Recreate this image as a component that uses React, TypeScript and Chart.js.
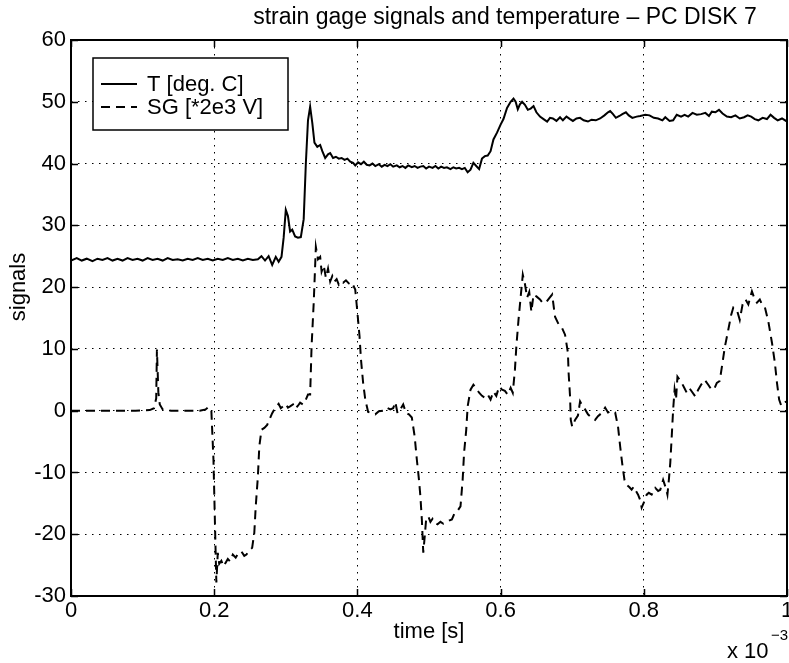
import React, { useEffect, useRef } from "react";
import { Chart, registerables } from "chart.js";

Chart.register(...registerables);

// ---- data (time in units of 1e-3 s) ----
const tTime = [
  0.000, 0.008, 0.015, 0.022, 0.030, 0.037, 0.044, 0.051, 0.058, 0.065, 0.072, 0.079, 0.086, 0.093, 0.100,
  0.107, 0.114, 0.121, 0.128, 0.135, 0.142, 0.149, 0.156, 0.163, 0.170, 0.177, 0.184, 0.191, 0.198, 0.205,
  0.212, 0.219, 0.226, 0.233, 0.240, 0.247, 0.254, 0.261, 0.266, 0.271, 0.276, 0.281, 0.286, 0.290, 0.294,
  0.297, 0.300, 0.303, 0.306, 0.309, 0.313, 0.317, 0.321, 0.325, 0.328, 0.331, 0.334, 0.337, 0.340, 0.344,
  0.348, 0.351, 0.355, 0.359, 0.362, 0.366, 0.370, 0.374, 0.378, 0.382, 0.386, 0.390, 0.394, 0.397, 0.401,
  0.405, 0.409, 0.413, 0.417, 0.421, 0.425, 0.430, 0.434, 0.438, 0.442, 0.446, 0.450, 0.455, 0.459, 0.463,
  0.467, 0.471, 0.476, 0.480, 0.484, 0.488, 0.492, 0.496, 0.500, 0.505, 0.509, 0.513, 0.517, 0.521, 0.525,
  0.530, 0.534, 0.538, 0.542, 0.546, 0.550, 0.554, 0.558, 0.562, 0.566, 0.570, 0.574, 0.578, 0.582, 0.586,
  0.590, 0.595, 0.600, 0.604, 0.609, 0.614, 0.618, 0.621, 0.624, 0.627, 0.630, 0.634, 0.638, 0.642, 0.646,
  0.650, 0.655, 0.660, 0.665, 0.669, 0.673, 0.678, 0.683, 0.687, 0.692, 0.697, 0.701, 0.706, 0.711, 0.716,
  0.722, 0.727, 0.733, 0.739, 0.745, 0.750, 0.753, 0.757, 0.761, 0.766, 0.770, 0.775, 0.779, 0.784, 0.790,
  0.795, 0.802, 0.808, 0.814, 0.820, 0.826, 0.830, 0.836, 0.841, 0.846, 0.852, 0.857, 0.862, 0.868, 0.874,
  0.880, 0.886, 0.891, 0.895, 0.900, 0.905, 0.910, 0.916, 0.922, 0.928, 0.934, 0.940, 0.945, 0.950, 0.955,
  0.960, 0.966, 0.972, 0.977, 0.982, 0.987, 0.993, 1.000,
];
const tValues = [
  24.3, 24.7, 24.3, 24.6, 24.2, 24.6, 24.4, 24.7, 24.3, 24.6, 24.3, 24.7, 24.4, 24.6, 24.3,
  24.7, 24.4, 24.6, 24.3, 24.7, 24.4, 24.5, 24.3, 24.6, 24.4, 24.7, 24.4, 24.6, 24.3, 24.6,
  24.4, 24.7, 24.4, 24.6, 24.3, 24.6, 24.4, 24.5, 25.0, 24.3, 25.0, 23.6, 24.9, 24.1, 24.9,
  28.0, 32.5, 31.5, 29.0, 29.3, 28.2, 28.0, 28.1, 31.0, 40.0, 47.0, 49.2, 46.6, 43.4, 42.7,
  43.0, 42.0, 40.9, 41.5, 41.7, 40.9, 41.1, 40.8, 40.9, 40.6, 40.8, 40.3, 40.1, 39.7, 40.2,
  39.9, 40.3, 39.8, 39.7, 40.0, 39.6, 39.9, 39.5, 39.8, 39.6, 39.9, 39.5, 39.7, 39.4, 39.6,
  39.3, 39.7, 39.4, 39.6, 39.3, 39.5, 39.6, 39.2, 39.5, 39.3, 39.6, 39.2, 39.5, 39.3, 39.4,
  39.1, 39.4, 39.2, 39.3, 39.1, 39.3, 38.6, 39.0, 40.1, 39.6, 39.1, 40.8, 41.2, 41.3, 42.0,
  43.9, 45.0, 46.3, 47.2, 49.0, 50.0, 50.5, 50.0, 48.8, 49.6, 50.0, 49.5, 48.7, 48.9, 49.3,
  48.3, 47.6, 47.2, 46.8, 47.4, 47.3, 46.9, 47.5, 47.0, 47.6, 47.2, 46.9, 47.3, 47.4, 47.0,
  46.8, 47.1, 47.0, 47.3, 47.8, 48.3, 48.5, 48.0, 47.4, 47.7, 48.0, 48.3, 47.8, 47.4, 47.6,
  47.7, 47.9, 47.8, 47.4, 47.3, 47.0, 47.5, 46.9, 47.0, 47.9, 47.6, 47.9, 47.6, 48.2, 47.9,
  48.0, 48.2, 47.7, 48.4, 48.3, 48.7, 48.1, 47.6, 47.5, 47.8, 47.3, 47.5, 47.8, 47.6, 47.2,
  47.0, 47.4, 47.2, 47.9, 47.4, 47.0, 47.3, 46.8,
];

const sgTime = [
  0.000, 0.030, 0.060, 0.090, 0.110, 0.116, 0.119, 0.120, 0.122, 0.124, 0.128, 0.140, 0.160, 0.180, 0.188,
  0.192, 0.196, 0.199, 0.201, 0.203, 0.205, 0.207, 0.210, 0.213, 0.216, 0.219, 0.222, 0.226, 0.230, 0.234,
  0.238, 0.242, 0.245, 0.249, 0.253, 0.256, 0.258, 0.261, 0.263, 0.266, 0.270, 0.274, 0.278, 0.281, 0.285,
  0.290, 0.293, 0.296, 0.300, 0.303, 0.306, 0.310, 0.313, 0.317, 0.320, 0.324, 0.328, 0.331, 0.334, 0.336,
  0.339, 0.342, 0.345, 0.348, 0.350, 0.353, 0.356, 0.359, 0.362, 0.365, 0.368, 0.371, 0.374, 0.377, 0.380,
  0.384, 0.388, 0.392, 0.397, 0.400, 0.403, 0.405, 0.408, 0.411, 0.415, 0.420, 0.425, 0.430, 0.436, 0.441,
  0.446, 0.450, 0.453, 0.456, 0.460, 0.464, 0.468, 0.472, 0.476, 0.480, 0.483, 0.486, 0.488, 0.490, 0.492,
  0.494, 0.496, 0.499, 0.502, 0.505, 0.508, 0.512, 0.516, 0.520, 0.524, 0.528, 0.532, 0.536, 0.540, 0.544,
  0.547, 0.549, 0.552, 0.554, 0.558, 0.562, 0.566, 0.570, 0.574, 0.578, 0.582, 0.586, 0.590, 0.594, 0.598,
  0.602, 0.606, 0.610, 0.614, 0.617, 0.620, 0.622, 0.625, 0.628, 0.631, 0.634, 0.637, 0.640, 0.643, 0.646,
  0.650, 0.655, 0.659, 0.664, 0.668, 0.672, 0.676, 0.681, 0.685, 0.690, 0.694, 0.695, 0.697, 0.698, 0.700,
  0.704, 0.708, 0.711, 0.715, 0.718, 0.722, 0.727, 0.732, 0.736, 0.741, 0.746, 0.750, 0.755, 0.760, 0.764,
  0.767, 0.770, 0.773, 0.776, 0.780, 0.783, 0.786, 0.789, 0.792, 0.795, 0.797, 0.800, 0.804, 0.807, 0.811,
  0.816, 0.820, 0.823, 0.827, 0.831, 0.833, 0.835, 0.837, 0.839, 0.841, 0.843, 0.845, 0.847, 0.853, 0.857,
  0.860, 0.864, 0.867, 0.872, 0.876, 0.880, 0.885, 0.890, 0.894, 0.898, 0.902, 0.906, 0.910, 0.913, 0.918,
  0.922, 0.925, 0.930, 0.934, 0.938, 0.942, 0.946, 0.951, 0.955, 0.958, 0.962, 0.965, 0.969, 0.974, 0.979,
  0.983, 0.986, 0.989, 0.992, 0.995, 1.000,
];
const sgValues = [
  0, 0, 0, 0, 0.1, 0.4, 2, 9.9, 3, 1, 0.2, 0, 0, 0, 0.2,
  0.6, 0.1, -8, -18, -27.8, -23, -24.8, -24.3, -25.2, -24.6, -24.0, -24.4, -23.3, -23.8, -23.0,
  -22.8, -23.5, -23.3, -22.6, -22.2, -19.8, -15.5, -10.7, -5.8, -3.1, -2.8, -2.3, -1.2, -0.4, 0.4,
  1.1, 0.4, 0.7, 1.1, 0.5, 0.7, 1.0, 0.3, 0.8, 1.3, 1.0, 1.8, 2.6, 2.6, 10.4,
  17.5, 26.5, 24.5, 24.9, 22.5, 23.5, 21.5, 23.0, 20.9, 21.8, 20.9, 21.3, 20.4, 20.9, 20.7,
  21.1, 20.6, 20.8, 19.6, 15.9, 12, 8.3, 4.5, 1.8, -0.2, -0.4, -0.6, -0.1, 0, 0.5,
  0.2, 0.4, 1.4, -0.4, 0.2, 1.0, -0.4, -0.6, -1.1, -4.2, -7.9, -11.2, -13.9, -17.6, -23.0,
  -20.4, -17.6, -17.1, -18.0, -17.5, -18.1, -18.4, -18.0, -18.3, -18.1, -17.8, -17.6, -16.5, -16.2, -15.5,
  -11.2, -6.8, -3.1, 0.7, 3.4, 4.2, 3.6, 2.9, 2.4, 2.1, 2.6, 1.8, 3.1, 2.4, 3.9,
  3.4, 3.2, 2.6, 3.7, 2.9, 6.6, 10.4, 14.7, 18.4, 22.0, 20.5, 18.3, 19.2, 16.0, 18.8,
  18.5, 18.0, 17.4, 17.6, 18.2, 18.8, 15.2, 14.0, 13.6, 12.3, 9.4, 6.1, 2.3, -1.5, -2.6,
  -1.5, -0.8, 1.5, 0.6, 0.2, -0.6, -1.1, -1.5, -0.9, -0.4, 0.5, -0.3, 0.0, -0.3, -2.6,
  -5.8, -8.7, -11.2, -12.0, -12.4, -12.8, -12.3, -13.0, -13.6, -14.5, -15.7, -14.9, -13.6, -13.3, -13.6,
  -12.5, -13.0, -12.8, -11.2, -12.6, -13.6, -11.2, -8.4, -4.2, 0.2, 3.4, 1.8, 5.5, 4.5, 3.6,
  2.9, 3.6, 3.1, 2.3, 3.4, 4.2, 5.0, 4.2, 3.5, 3.4, 4.5, 4.8, 7.8, 10.2, 13.1,
  15.5, 16.7, 16.3, 14.7, 17.2, 18.0, 17.2, 19.3, 18.0, 17.5, 18.0, 17.2, 16.8, 14.4, 11.0,
  7.8, 4.5, 1.8, 0.8, 1.3, 1.5,
];

const xTicks = [0, 0.2, 0.4, 0.6, 0.8, 1];
const xTickLabels = ["0", "0.2", "0.4", "0.6", "0.8", "1"];
const yTicks = [-30, -20, -10, 0, 10, 20, 30, 40, 50, 60];
const seriesNames = ["T [deg. C]", "SG [*2e3 V]"];
const titleText = "strain gage signals and temperature \u2013 PC DISK 7";
const xTitle = "time [s]";
const yTitle = "signals";

const FONT = '"Liberation Sans", Arial, Helvetica, sans-serif';
const FS = 22;
const SG_DASH = [9, 6];

const decor = {
  id: "matlabDecor",
  afterDraw(chart: any) {
    const { ctx, chartArea } = chart;
    const { left, right, top, bottom } = chartArea;
    const xs = chart.scales.x;
    const ys = chart.scales.y;
    ctx.save();
    ctx.strokeStyle = "#000";
    ctx.setLineDash([]);
    // inward tick marks
    ctx.lineWidth = 1.5;
    ctx.beginPath();
    xTicks.forEach((v) => {
      const px = Math.round(xs.getPixelForValue(v)) + 0.5;
      ctx.moveTo(px, bottom);
      ctx.lineTo(px, bottom - 7);
      ctx.moveTo(px, top);
      ctx.lineTo(px, top + 7);
    });
    yTicks.forEach((v) => {
      const py = Math.round(ys.getPixelForValue(v)) + 0.5;
      ctx.moveTo(left, py);
      ctx.lineTo(left + 7, py);
      ctx.moveTo(right, py);
      ctx.lineTo(right - 7, py);
    });
    ctx.stroke();
    // frame
    ctx.lineWidth = 2;
    ctx.strokeRect(left, top, right - left, bottom - top);

    // legend box
    const lx = 93, ly = 58, lw = 195, lh = 72;
    ctx.fillStyle = "#fff";
    ctx.fillRect(lx, ly, lw, lh);
    ctx.lineWidth = 1.5;
    ctx.strokeRect(lx, ly, lw, lh);
    const rows = [84, 107];
    ctx.lineWidth = 2;
    ctx.beginPath();
    ctx.moveTo(101, rows[0]);
    ctx.lineTo(137, rows[0]);
    ctx.stroke();
    ctx.setLineDash(SG_DASH);
    ctx.beginPath();
    ctx.moveTo(101, rows[1]);
    ctx.lineTo(137, rows[1]);
    ctx.stroke();
    ctx.setLineDash([]);
    ctx.fillStyle = "#000";
    ctx.font = `${FS}px ${FONT}`;
    ctx.textAlign = "left";
    ctx.textBaseline = "middle";
    ctx.fillText(seriesNames[0], 147, rows[0] + 1);
    ctx.fillText(seriesNames[1], 147, rows[1] + 1);

    // title
    ctx.textAlign = "center";
    ctx.textBaseline = "alphabetic";
    ctx.font = `23px ${FONT}`;
    ctx.fillText(titleText, 505, 24);

    // y axis title
    ctx.save();
    ctx.font = `${FS}px ${FONT}`;
    ctx.translate(19, 287);
    ctx.rotate(-Math.PI / 2);
    ctx.textAlign = "center";
    ctx.textBaseline = "middle";
    ctx.fillText(yTitle, 0, 0);
    ctx.restore();

    // exponent label
    ctx.textAlign = "left";
    ctx.font = `${FS}px ${FONT}`;
    ctx.fillText("x 10", 727, 658);
    ctx.font = `15px ${FONT}`;
    ctx.fillText("\u22123", 771, 640);
    ctx.restore();
  },
};

export default function App() {
  const ref = useRef<HTMLCanvasElement | null>(null);
  useEffect(() => {
    if (!ref.current) return;
    const chart = new Chart(ref.current, {
      type: "line",
      data: {
        datasets: [
          {
            label: seriesNames[0],
            data: tTime.map((t, i) => ({ x: t, y: tValues[i] })),
            borderColor: "#000",
            borderWidth: 2,
            pointRadius: 0,
            tension: 0,
            fill: false,
          },
          {
            label: seriesNames[1],
            data: sgTime.map((t, i) => ({ x: t, y: sgValues[i] })),
            borderColor: "#000",
            borderWidth: 2,
            borderDash: SG_DASH,
            pointRadius: 0,
            tension: 0,
            fill: false,
          },
        ],
      },
      options: {
        animation: false,
        responsive: false,
        devicePixelRatio: 1,
        layout: { padding: { top: 40, right: 2, left: 0, bottom: 0 } },
        plugins: {
          legend: { display: false },
          title: { display: false },
          tooltip: { enabled: false },
        },
        scales: {
          x: {
            type: "linear",
            min: 0,
            max: 1,
            afterFit: (s: any) => {
              s.height = 67;
              s.paddingLeft = 0;
              s.paddingRight = 0;
            },
            afterBuildTicks: (s: any) => {
              s.ticks = xTicks.map((v) => ({ value: v }));
            },
            ticks: {
              color: "#000",
              font: { family: FONT, size: FS },
              padding: 2,
              maxRotation: 0,
              autoSkip: false,
              callback: (v: any) => {
                const i = xTicks.findIndex((t) => Math.abs(t - v) < 1e-9);
                return i >= 0 ? xTickLabels[i] : "";
              },
            },
            grid: { color: "#000", lineWidth: 1, drawTicks: false },
            border: { display: false, dash: [1.5, 5.5] },
            title: {
              display: true,
              text: xTitle,
              color: "#000",
              font: { family: FONT, size: FS },
              padding: { top: 0, bottom: 18 },
            },
          },
          y: {
            type: "linear",
            min: -30,
            max: 60,
            afterFit: (s: any) => {
              s.width = 71;
              s.paddingTop = 0;
              s.paddingBottom = 0;
            },
            afterBuildTicks: (s: any) => {
              s.ticks = yTicks.map((v) => ({ value: v }));
            },
            ticks: {
              color: "#000",
              font: { family: FONT, size: FS },
              padding: 5,
              autoSkip: false,
              callback: (v: any) => String(v),
            },
            grid: { color: "#000", lineWidth: 1, drawTicks: false },
            border: { display: false, dash: [1.5, 5.5] },
          },
        },
      },
      plugins: [decor],
    });
    return () => chart.destroy();
  }, []);
  return (
    <div style={{ position: "absolute", left: 0, top: 0, width: 789, height: 663, background: "#fff" }}>
      <canvas ref={ref} width={789} height={663} style={{ width: 789, height: 663, display: "block" }} />
    </div>
  );
}
